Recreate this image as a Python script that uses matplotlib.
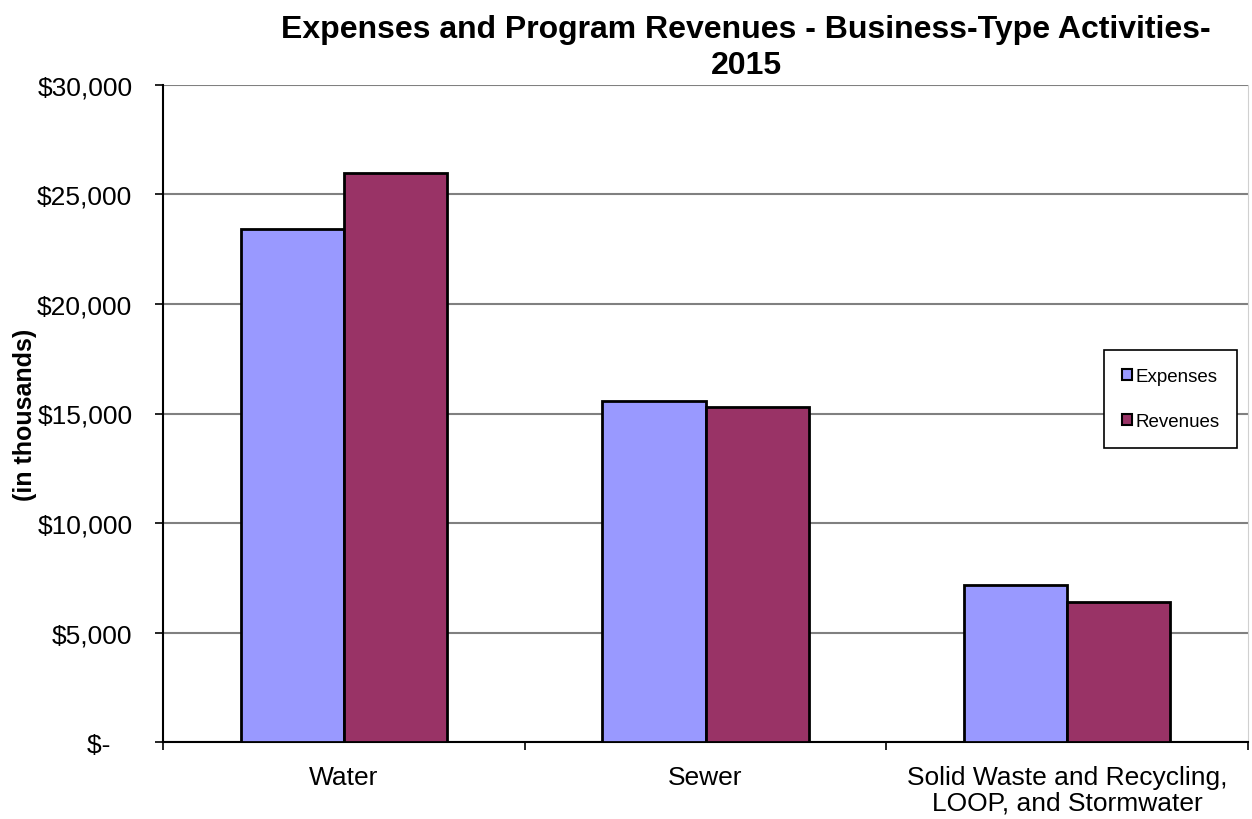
"""
    business_type.py

    Expenses and program revenues for the business-type activities, 2015
"""

from matplotlib import pyplot as plt
from matplotlib.patches import Patch
from matplotlib.ticker import FuncFormatter

import numpy as np

plt.rcParams['font.family'] = ['Liberation Sans', 'DejaVu Sans']

categories = ['Water', 'Sewer', 'Solid Waste and Recycling,\nLOOP, and Stormwater']
expenses = [23400, 15550, 7170]
revenues = [25975, 15300, 6400]

c_exp = '#9999FF'
c_rev = '#993366'

x = np.arange(len(categories))
w = 1. / 3.5

fig = plt.figure(figsize = (12.52, 8.2), dpi = 100)
ax = fig.add_axes([163/1252., 1 - 743.3/820., (1248 - 163)/1252., (743.3 - 85.7)/820.])

ax.bar(x - w/2, expenses, w, color = c_exp, edgecolor = 'black', linewidth = 2, zorder = 3)
ax.bar(x + w/2, revenues, w, color = c_rev, edgecolor = 'black', linewidth = 2, zorder = 3)

ax.set_xlim(-0.5, len(categories) - 0.5)
ax.set_ylim(0, 30000)

ax.set_yticks(np.arange(0, 30001, 5000))
ax.yaxis.set_major_formatter(FuncFormatter(lambda v, p: '$-   ' if v == 0 else '${:,.0f}'.format(v)))
ax.tick_params(axis = 'y', direction = 'out', length = 6, width = 1.2, pad = 16, labelsize = 19)
ax.grid(axis = 'y', color = '#808080', linewidth = 1.5, zorder = 0)

# category boundaries get the tick marks, names sit at the centres
ax.set_xticks(np.arange(len(categories) + 1) - 0.5)
ax.set_xticklabels([])
ax.tick_params(axis = 'x', which = 'major', direction = 'out', length = 6, width = 1.2)
ax.set_xticks(x, minor = True)
ax.set_xticklabels(categories, minor = True, fontsize = 19, linespacing = 1.1)
ax.tick_params(axis = 'x', which = 'minor', length = 0, pad = 16)

ax.spines['top'].set_visible(False)
ax.spines['right'].set_color('#d0d0d0')
ax.spines['left'].set_linewidth(1.5)
ax.spines['bottom'].set_linewidth(1.5)

ax.set_ylabel('(in thousands)', fontsize = 18, fontweight = 'bold', labelpad = 0)

fig.text(746/1252., 1 - 15/820., 'Expenses and Program Revenues - Business-Type Activities-\n2015',
         ha = 'center', va = 'top', fontsize = 23, fontweight = 'bold', linespacing = 1.25)

handles = [Patch(facecolor = c_exp, edgecolor = 'black', linewidth = 1.5, label = 'Expenses'),
           Patch(facecolor = c_rev, edgecolor = 'black', linewidth = 1.5, label = 'Revenues')]
leg = ax.legend(handles = handles, loc = 'center right', bbox_to_anchor = (1237/1252., 1 - 400/820.),
                bbox_transform = fig.transFigure, borderaxespad = 0, fontsize = 13.5,
                handlelength = 0.55, handleheight = 0.55, handletextpad = 0.15, labelspacing = 1.5,
                borderpad = 0.95, fancybox = False, framealpha = 1, edgecolor = 'black')
leg.get_frame().set_linewidth(1.2)

fig.savefig('out.png', dpi = 100)
